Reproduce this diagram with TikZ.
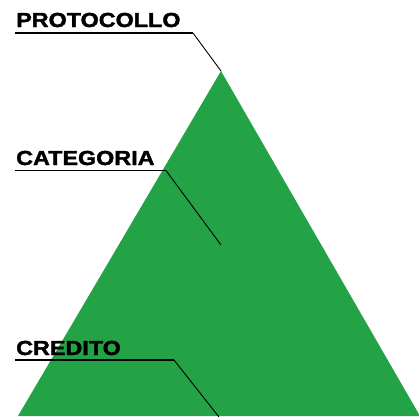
\documentclass[tikz,border=0pt]{standalone}
\usepackage{fontspec}
\newfontfamily\labfont[FakeStretch=1.15,BoldFeatures={FakeBold=1.8}]{Liberation Sans}
\definecolor{trigreen}{RGB}{36,162,70}
\begin{document}
\begin{tikzpicture}[x=1pt,y=-1pt,
  lab/.style={anchor=base west,inner sep=0pt,font=\labfont\bfseries\fontsize{20.3}{21}\selectfont},
  under/.style={line width=1.5pt,black},
  lead/.style={line width=0.9pt,black}]
\useasboundingbox (0,0) rectangle (419,416);
\clip (0,0) rectangle (419,416);
\fill[trigreen] (221,71) -- (18,416) -- (420,416) -- cycle;
\node[lab] (p) at (16,27) {PROTOCOLLO};
\node[lab] (c) at (16,165) {CATEGORIA};
\node[lab] (r) at (16,355) {CREDITO};
\coordinate (p1) at (15,33);
\coordinate (p2) at (193,33);
\coordinate (p3) at (221,71);
\coordinate (c1) at (15,170.5);
\coordinate (c2) at (166,170.5);
\coordinate (c3) at (221,245);
\coordinate (r1) at (15,360);
\coordinate (r2) at (174,360);
\coordinate (r3) at (219,417);
\draw[under] (p1) -- (p2);
\draw[lead] (p2) -- (p3);
\draw[under] (c1) -- (c2);
\draw[lead] (c2) -- (c3);
\draw[under] (r1) -- (r2);
\draw[lead] (r2) -- (r3);
\end{tikzpicture}
\end{document}
